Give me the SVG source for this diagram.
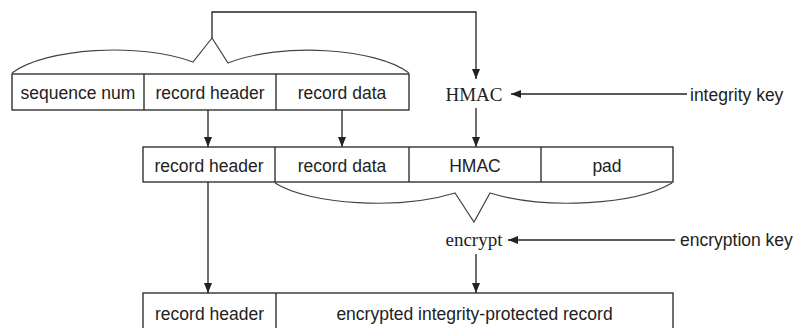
<svg xmlns="http://www.w3.org/2000/svg" width="797" height="328" viewBox="0 0 797 328">
<style>
.box{fill:#fff;stroke:#222;stroke-width:1.3}
.div{stroke:#222;stroke-width:1.3}
.t{font-family:"Liberation Sans",Arial,sans-serif;font-size:17.5px;fill:#222;text-anchor:middle}
.ts{font-family:"Liberation Serif","Times New Roman",serif;font-size:19px;fill:#222;text-anchor:middle}
.tl{font-family:"Liberation Sans",Arial,sans-serif;font-size:17.5px;fill:#222;text-anchor:start}
.c{fill:none;stroke:#222;stroke-width:1.3}
.br{fill:none;stroke:#444;stroke-width:1.2}
</style>
<defs>
<marker id="ah" markerUnits="userSpaceOnUse" markerWidth="10" markerHeight="8" viewBox="0 0 10 8" refX="10" refY="4" orient="auto">
<path d="M0,0 L10,4 L0,8 Z" fill="#222"/>
</marker>
</defs>
<g id="row1">
<rect class="box" x="12" y="74" width="397" height="36"/>
<line class="div" x1="144" y1="74" x2="144" y2="110"/>
<line class="div" x1="276" y1="74" x2="276" y2="110"/>
<text class="t" x="78" y="99">sequence num</text>
<text class="t" x="210" y="99">record header</text>
<text class="t" x="342" y="99">record data</text>
</g>
<g id="hmac-op"><text class="ts" x="474" y="101">HMAC</text></g>
<g id="integrity-key"><text class="tl" x="690" y="101">integrity key</text></g>
<g id="row2">
<rect class="box" x="143" y="147" width="530" height="35"/>
<line class="div" x1="275" y1="147" x2="275" y2="182"/>
<line class="div" x1="409" y1="147" x2="409" y2="182"/>
<line class="div" x1="541" y1="147" x2="541" y2="182"/>
<text class="t" x="209" y="172">record header</text>
<text class="t" x="342" y="172">record data</text>
<text class="t" x="475" y="172">HMAC</text>
<text class="t" x="607" y="172">pad</text>
</g>
<g id="encrypt-op"><text class="ts" x="474" y="246">encrypt</text></g>
<g id="encryption-key"><text class="tl" x="680" y="246">encryption key</text></g>
<g id="row3">
<rect class="box" x="143" y="293" width="530" height="40"/>
<line class="div" x1="276" y1="293" x2="276" y2="333"/>
<text class="t" x="209.5" y="320">record header</text>
<text class="t" x="474.5" y="320">encrypted integrity-protected record</text>
</g>
<g id="connectors">
<path class="br" d="M12,73 C45,48 140,42 193,62 L212,38 L228,63 C281,42 376,48 409,73"/>
<path class="c" d="M212,38 L212,12 L476,12 L476,79" marker-end="url(#ah)"/>
<path class="c" d="M687,94 L511,94" marker-end="url(#ah)"/>
<path class="c" d="M208,110 L208,147" marker-end="url(#ah)"/>
<path class="c" d="M342,110 L342,147" marker-end="url(#ah)"/>
<path class="c" d="M476,108 L476,147" marker-end="url(#ah)"/>
<path class="br" d="M275,183 C310,205 400,210 455,193 L474,222 L490,193 C545,210 635,205 672,183"/>
<path class="c" d="M675,240 L508,240" marker-end="url(#ah)"/>
<path class="c" d="M476,254 L476,293" marker-end="url(#ah)"/>
<path class="c" d="M208,182 L208,293" marker-end="url(#ah)"/>
</g>
</svg>
